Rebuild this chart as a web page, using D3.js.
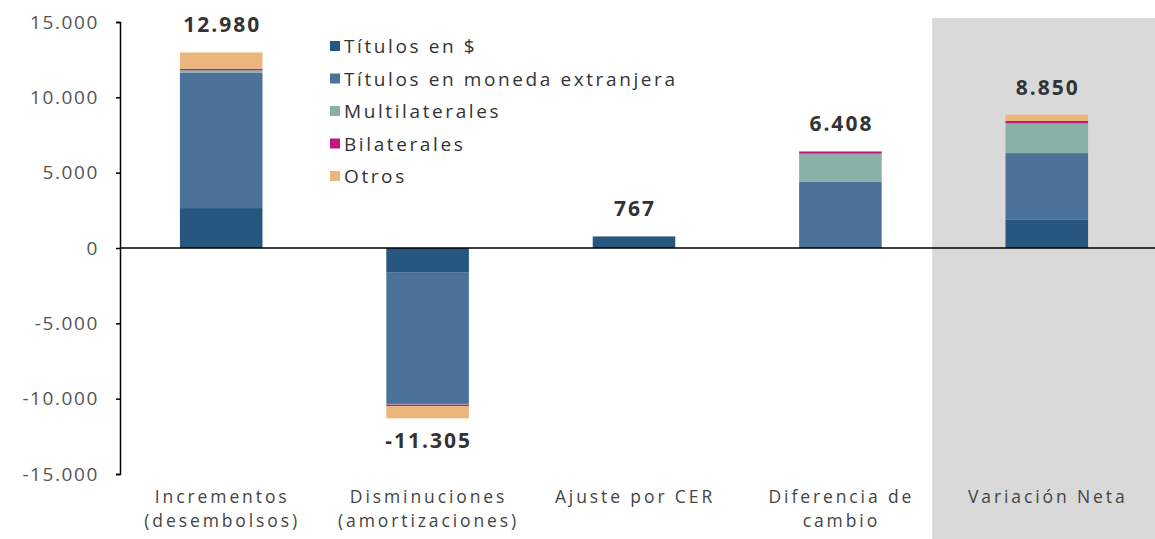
<!DOCTYPE html>
<html>
<head>
<meta charset="utf-8">
<script src="https://cdn.jsdelivr.net/npm/d3@7"></script>
<style>
  body { margin: 0; background: #fff; }
  text { font-family: "Open Sans", sans-serif; }
</style>
</head>
<body>
<div id="chart"></div>
<script>
// data (millones)
var categories = ["Incrementos|(desembolsos)", "Disminuciones|(amortizaciones)", "Ajuste por CER", "Diferencia de|cambio", "Variación Neta"];
var seriesNames = ["Títulos en $", "Títulos en moneda extranjera", "Multilaterales", "Bilaterales", "Otros"];
var titulosPesos = [2650, -1600, 767, 0, 1900];
var titulosME = [9000, -8750, 0, 4380, 4400];
var multilaterales = [150, -50, 0, 1880, 1980];
var bilaterales = [100, -100, 0, 148, 150];
var otros = [1080, -805, 0, 0, 420];
var totals = [12980, -11305, 767, 6408, 8850];
var yTicks = [15000, 10000, 5000, 0, -5000, -10000, -15000];

var colors = ["#27567f", "#4b7298", "#89b1a5", "#c2177a", "#ebb57c"];
var seriesValues = [titulosPesos, titulosME, multilaterales, bilaterales, otros];

var width = 1155, height = 539;
var margin = {top: 22, right: 3, bottom: 65, left: 120};

// numbers with dot as thousands separator and plain hyphen
var fmt = function(d) { return d3.format(",")(d).replace(/,/g, ".").replace("−", "-"); };

var svg = d3.select("#chart")
  .append("svg")
    .attr("width", width)
    .attr("height", height);

var x = d3.scaleBand()
  .domain(categories)
  .range([118, 1150])
  .paddingInner(0.6)
  .paddingOuter(0.3);

var y = d3.scaleLinear()
  .domain([-15000, 15000])
  .range([height - margin.bottom, margin.top]);

// gray panel behind Variación Neta
var panelX = x(categories[4]) - x.step() * 0.355;
svg.append("rect")
  .attr("x", panelX)
  .attr("y", 18)
  .attr("width", width - panelX)
  .attr("height", height - 18)
  .style("fill", "#d9d9d9");

// stacked bars (positives upward, negatives downward)
var stackData = categories.map(function(c, i) {
  var pos = 0, neg = 0;
  return seriesValues.map(function(s, k) {
    var v = s[i], y0, y1;
    if (v >= 0) { y0 = pos; pos += v; y1 = pos; }
    else { y0 = neg; neg += v; y1 = neg; }
    return {cat: c, k: k, y0: y0, y1: y1};
  });
});

svg.append("g")
  .selectAll("g")
  .data(stackData)
  .enter()
  .append("g")
  .selectAll("rect")
  .data(function(d) { return d.filter(function(e) { return e.y0 !== e.y1; }); })
  .enter()
  .append("rect")
    .attr("x", function(d) { return x(d.cat); })
    .attr("width", x.bandwidth())
    .attr("y", function(d) { return y(Math.max(d.y0, d.y1)); })
    .attr("height", function(d) { return Math.abs(y(d.y0) - y(d.y1)); })
    .style("fill", function(d) { return colors[d.k]; });

// zero line
svg.append("line")
  .attr("x1", margin.left)
  .attr("x2", width)
  .attr("y1", y(0))
  .attr("y2", y(0))
  .style("stroke", "#000")
  .style("stroke-width", 1.5);

// Y axis
var yAxis = svg.append("g")
  .attr("transform", "translate(" + margin.left + ",0)")
  .call(d3.axisLeft(y)
    .tickValues(yTicks)
    .tickSize(4)
    .tickPadding(17)
    .tickFormat(fmt));
yAxis.select(".domain").style("stroke", "#000").style("stroke-width", 1.5);
yAxis.selectAll(".tick line").style("stroke", "#000").style("stroke-width", 1.5);
yAxis.selectAll(".tick text")
  .style("font-size", "19px")
  .style("fill", "#555")
  .style("letter-spacing", "1.6px")
  .style("font-family", "'Open Sans', sans-serif");

// totals
svg.append("g")
  .selectAll("text")
  .data(totals)
  .enter()
  .append("text")
    .attr("x", function(d, i) { return x(categories[i]) + x.bandwidth() / 2 + 1; })
    .attr("y", function(d) { return d >= 0 ? y(d) - 20 : y(d) + 30; })
    .attr("text-anchor", "middle")
    .style("font-size", "21px")
    .style("font-weight", "bold")
    .style("letter-spacing", "2px")
    .style("fill", "#333")
    .text(fmt);

// category labels, one text per line
var catLines = [];
categories.forEach(function(c) {
  c.split("|").forEach(function(t, j) { catLines.push({cat: c, line: j, text: t}); });
});
svg.append("g")
  .selectAll("text")
  .data(catLines)
  .enter()
  .append("text")
    .attr("x", function(d) { return x(d.cat) + x.bandwidth() / 2 + 1; })
    .attr("y", function(d) { return 503 + d.line * 24; })
    .attr("text-anchor", "middle")
    .style("font-size", "17.5px")
    .style("letter-spacing", "2.9px")
    .style("fill", "#444")
    .text(function(d) { return d.text; });

// legend
var legend = svg.append("g")
  .selectAll("g")
  .data(seriesNames)
  .enter()
  .append("g")
    .attr("transform", function(d, i) { return "translate(330," + (46 + i * 32.5) + ")"; });
legend.append("rect")
  .attr("x", 0)
  .attr("y", -5)
  .attr("width", 10)
  .attr("height", 10)
  .style("fill", function(d, i) { return colors[i]; });
legend.append("text")
  .attr("x", 14)
  .attr("y", 7)
  .style("font-size", "19px")
  .style("letter-spacing", "2.6px")
  .style("fill", "#333")
  .text(function(d) { return d; });
</script>
</body>
</html>
